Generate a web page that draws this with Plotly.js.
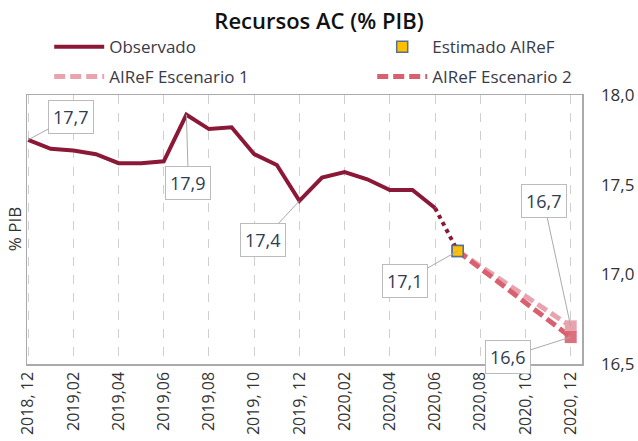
<!DOCTYPE html>
<html>
<head>
<meta charset="utf-8">
<script src="https://cdn.plot.ly/plotly-3.0.1.min.js"></script>
<style>html,body{margin:0;padding:0;background:#fff;}#chart{width:638px;height:441px;}</style>
</head>
<body>
<div id="chart"></div>
<script>
// ---- data ----
const months = ["2018, 12","2019,01","2019,02","2019,03","2019,04","2019,05","2019,06","2019,07","2019,08","2019,09","2019, 10","2019, 11","2019, 12",
                "2020,01","2020,02","2020,03","2020,04","2020,05","2020,06","2020,07","2020,08","2020,09","2020, 10","2020, 11","2020, 12"];
const observedMonths = months.slice(0, 19);
const observed = [17.75,17.70,17.69,17.67,17.62,17.62,17.63,17.89,17.81,17.82,17.67,17.61,17.41,17.54,17.57,17.53,17.47,17.47,17.37];
const bridgeMonths = ["2020,06","2020,07"];
const bridgeValues = [17.37,17.13];
const estimateMonth = ["2020,07"];
const estimateValue = [17.13];
const scenarioMonths = ["2020,07","2020, 12"];
const scenario1 = [17.13,16.71];
const scenario2 = [17.13,16.65];
const tickMonths = ["2018, 12","2019,02","2019,04","2019,06","2019,08","2019, 10","2019, 12","2020,02","2020,04","2020,06","2020,08","2020, 10","2020, 12"];
const labels = [
  {x:"2018, 12", y:17.75, text:"17,7", ax:43, ay:-23},
  {x:"2019,07", y:17.89, text:"17,9", ax:2, ay:68},
  {x:"2019, 12", y:17.41, text:"17,4", ax:-36, ay:39},
  {x:"2020,07", y:17.13, text:"17,1", ax:-53, ay:30},
  {x:"2020, 12", y:16.71, text:"16,7", ax:-27, ay:-125},
  {x:"2020, 12", y:16.65, text:"16,6", ax:-63, ay:20}
];

const cObs = "#8C1838", cEst = "#FFC000", cEstLine = "#56708E", cS1 = "#E9A3AE", cS2 = "#D9606F";
const FONT = "'Open Sans', Lato, sans-serif";

const traces = [
  {x: observedMonths, y: observed, mode:"lines", name:"Observado", line:{color:cObs, width:4}, legend:"legend"},
  {x: estimateMonth, y: estimateValue, mode:"markers", name:"Estimado AIReF", marker:{symbol:"square", size:11, color:cEst, line:{color:cEstLine, width:1.5}}, legend:"legend2"},
  {x: scenarioMonths, y: scenario1, mode:"lines", name:"AIReF Escenario 1", line:{color:cS1, width:5, dash:"11px,5px"}, legend:"legend3"},
  {x: scenarioMonths, y: scenario2, mode:"lines", name:"AIReF Escenario 2", line:{color:cS2, width:5, dash:"11px,5px"}, legend:"legend4"},
  {x: bridgeMonths, y: bridgeValues, mode:"lines", line:{color:cObs, width:4, dash:"dot"}, showlegend:false, hoverinfo:"skip"},
  {x: [scenarioMonths[1]], y: [scenario1[1]], mode:"markers", marker:{symbol:"square", size:12, color:cS1}, showlegend:false},
  {x: [scenarioMonths[1]], y: [scenario2[1]], mode:"markers", marker:{symbol:"square", size:12, color:cS2, opacity:0.9}, showlegend:false},
  {x: estimateMonth, y: estimateValue, mode:"markers", marker:{symbol:"square", size:11, color:cEst, line:{color:cEstLine, width:1.5}}, showlegend:false}
];

const annotations = labels.map(l => ({
  x:l.x, y:l.y, xref:"x", yref:"y", text:l.text, showarrow:true, arrowhead:0, arrowwidth:1, arrowcolor:"#AAAAAA",
  ax:l.ax, ay:l.ay, bgcolor:"#FFFFFF", bordercolor:"#BBBBBB", borderwidth:1, borderpad:4,
  font:{family:FONT, size:18, color:"#2F3D52"}
}));
annotations.push({xref:"paper", yref:"paper", x:-0.022, y:0.5, xanchor:"center", yanchor:"middle", text:"% PIB", textangle:-90, showarrow:false, font:{family:FONT, size:17, color:"#333"}});

const legendBase = {orientation:"h", xanchor:"left", yanchor:"middle", itemwidth:50,
  font:{family:FONT, size:17, color:"#3A3A48"}, bgcolor:"rgba(0,0,0,0)"};

const layout = {
  width:638, height:441,
  margin:{l:27, r:56, t:95, b:77},
  paper_bgcolor:"#fff", plot_bgcolor:"#fff",
  separators:",.",
  font:{family:FONT, color:"#333"},
  title:{text:"Recursos AC (% PIB)", x:0.5, xanchor:"center", y:0.952, yanchor:"middle", font:{family:FONT, size:22, weight:600, color:"#111"}},
  showlegend:true,
  legend:Object.assign({}, legendBase, {x:0.04, y:1.178}),
  legend2:Object.assign({}, legendBase, {x:0.622, y:1.178}),
  legend3:Object.assign({}, legendBase, {x:0.04, y:1.067}),
  legend4:Object.assign({}, legendBase, {x:0.622, y:1.067}),
  xaxis:{type:"category", categoryorder:"array", categoryarray:months, range:[-0.05, 24.5],
         tickmode:"array", tickvals:tickMonths, ticktext:tickMonths, tickangle:-90,
         showgrid:true, gridcolor:"#CFCFCF", griddash:"dash", gridwidth:1,
         showline:true, mirror:true, linecolor:"#AAAAAA", linewidth:1.5, ticks:"",
         tickfont:{family:FONT, size:16, color:"#333"}, zeroline:false},
  yaxis:{range:[16.5, 18.0], side:"right", tickvals:[16.5,17,17.5,18], tickformat:".1f",
         showgrid:false, showline:true, mirror:true, linecolor:"#AAAAAA", linewidth:1.5, ticks:"",
         ticklabelstandoff:14, tickfont:{family:FONT, size:17, color:"#333"}, zeroline:false},
  annotations: annotations
};

Plotly.newPlot("chart", traces, layout, {displayModeBar:false, staticPlot:true});
</script>
</body>
</html>
